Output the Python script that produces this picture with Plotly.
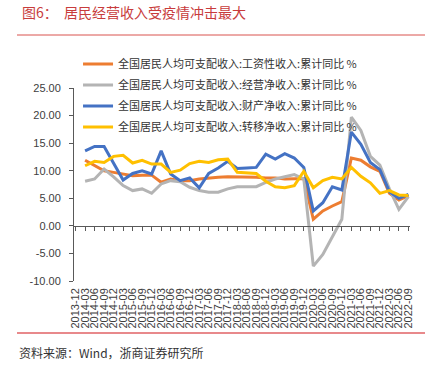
import plotly.graph_objects as go

dates = ["2013-12",
         "2014-03", "2014-06", "2014-09", "2014-12",
         "2015-03", "2015-06", "2015-09", "2015-12",
         "2016-03", "2016-06", "2016-09", "2016-12",
         "2017-03", "2017-06", "2017-09", "2017-12",
         "2018-03", "2018-06", "2018-09", "2018-12",
         "2019-03", "2019-06", "2019-09", "2019-12",
         "2020-03", "2020-06", "2020-09", "2020-12",
         "2021-03", "2021-06", "2021-09", "2021-12",
         "2022-03", "2022-06", "2022-09"]

wage = [None,
        11.9, 10.9, 10.0, 9.7,
        9.4, 9.1, 9.2, 9.2,
        7.9, 8.5, 8.2, 8.2,
        8.5, 8.7, 8.8, 8.9,
        8.9, 8.9, 8.8, 8.7,
        8.7, 8.5, 8.5, 8.6,
        1.2, 2.7, 3.6, 4.4,
        12.3, 11.9, 10.7, 9.9,
        5.9, 4.7, 5.5]

business = [None,
            8.1, 8.5, 10.3, 8.9,
            7.3, 6.4, 6.7, 5.9,
            7.6, 8.2, 8.0, 7.0,
            6.4, 6.1, 6.1, 6.7,
            7.1, 7.1, 7.1, 7.9,
            8.5, 8.9, 9.3, 8.5,
            -7.3, -5.2, -2.1, 1.2,
            19.7, 17.3, 12.6, 11.0,
            6.7, 3.0, 5.3]

property_inc = [None,
                13.6, 14.4, 14.4, 11.3,
                8.3, 9.5, 10.0, 9.4,
                13.6, 9.4, 8.2, 8.7,
                6.9, 9.5, 10.5, 11.7,
                10.4, 10.5, 10.6, 13.0,
                12.1, 13.1, 12.3, 10.6,
                2.7, 4.2, 7.1, 6.5,
                17.0, 14.8, 11.5, 10.2,
                6.2, 5.0, 5.7]

transfer = [None,
            10.9, 11.7, 11.5, 12.6,
            12.8, 11.4, 11.9, 11.2,
            11.2, 9.7, 10.1, 11.3,
            11.7, 11.5, 12.0, 12.1,
            9.7, 9.6, 9.5, 8.1,
            7.1, 6.9, 7.3, 9.9,
            6.9, 8.2, 8.8, 8.5,
            10.6, 9.0, 7.8, 5.9,
            6.4, 5.6, 5.5]

series_names = ["全国居民人均可支配收入:工资性收入:累计同比 %",
                "全国居民人均可支配收入:经营净收入:累计同比 %",
                "全国居民人均可支配收入:财产净收入:累计同比 %",
                "全国居民人均可支配收入:转移净收入:累计同比 %"]
series_values = [wage, business, property_inc, transfer]
colors = ["#ED7D31", "#B4B4B4", "#4472C4", "#FFC000"]

y_ticks = [-10, -5, 0, 5, 10, 15, 20, 25]
y_ticktext = ["%.2f" % v for v in y_ticks]

idx = list(range(len(dates)))
xr = [-1 / 6, len(dates) - 1 + 1 / 6]

fig = go.Figure()
for k, (name, vals, col) in enumerate(zip(series_names, series_values, colors)):
    fig.add_trace(go.Scatter(x=idx, y=vals, mode="lines", name=name,
                             line=dict(color=col, width=3),
                             legendgroup="g%d" % k, connectgaps=False))

# invisible helper trace for the zero-line axis
fig.add_trace(go.Scatter(x=[idx[0], idx[-1]], y=[0, 0], xaxis="x2", mode="markers",
                         marker=dict(opacity=0), showlegend=False, hoverinfo="skip"))

axis_font = dict(family="Liberation Sans, Arial, sans-serif", size=11, color="#404040")

fig.update_layout(
    width=433, height=366,
    margin=dict(l=74, r=23, t=88, b=85, autoexpand=False),
    paper_bgcolor="white", plot_bgcolor="white",
    showlegend=True,
    legend=dict(x=0.012, y=1.2, xanchor="left", yanchor="top",
                bgcolor="rgba(0,0,0,0)", borderwidth=0,
                font=dict(family="Noto Sans CJK SC", size=11, color="#333333"),
                tracegroupgap=2, itemwidth=30),
    xaxis=dict(range=xr, tickmode="array", tickvals=idx, ticktext=dates,
               tickangle=-90, showline=False, ticks="", showgrid=False,
               zeroline=False, tickfont=axis_font, ticklabelstandoff=4,
               automargin=False),
    xaxis2=dict(range=xr, overlaying="x", anchor="free", position=10 / 35,
                tickmode="array", tickvals=idx, showticklabels=False,
                showline=True, linecolor="#595959", linewidth=1,
                ticks="outside", ticklen=4, tickcolor="#595959",
                showgrid=False, zeroline=False),
    yaxis=dict(range=[-10, 25], tickmode="array", tickvals=y_ticks, ticktext=y_ticktext,
               showline=True, linecolor="#595959", linewidth=1,
               ticks="outside", ticklen=4, tickcolor="#595959",
               showgrid=False, zeroline=False, tickfont=axis_font,
               ticklabelstandoff=6, automargin=False),
)

# title, rules and source note
fig.add_annotation(text="图6：  居民经营收入受疫情冲击最大", xref="paper", yref="paper",
                   x=(20 - 74) / 336, y=1 + (88 - 12) / 193, xanchor="left", yanchor="middle",
                   showarrow=False,
                   font=dict(family="Noto Sans CJK SC", size=14, color="#C83C3C"))
fig.add_shape(type="line", xref="paper", yref="paper",
              x0=(17 - 74) / 336, x1=(425 - 74) / 336,
              y0=1 + (88 - 35) / 193, y1=1 + (88 - 35) / 193,
              line=dict(color="#D9534F", width=1))
fig.add_shape(type="line", xref="paper", yref="paper",
              x0=(17 - 74) / 336, x1=(425 - 74) / 336,
              y0=-(333 - 281) / 193, y1=-(333 - 281) / 193,
              line=dict(color="#E8898B", width=2))
fig.add_annotation(text="资料来源：Wind，浙商证券研究所", xref="paper", yref="paper",
                   x=(17 - 74) / 336, y=-(352 - 281) / 193, xanchor="left", yanchor="middle",
                   showarrow=False,
                   font=dict(family="Noto Sans CJK SC", size=12, color="#333333"))

fig.write_html("out.html", config={"displayModeBar": False},
               post_script="document.body.style.margin='0';")
